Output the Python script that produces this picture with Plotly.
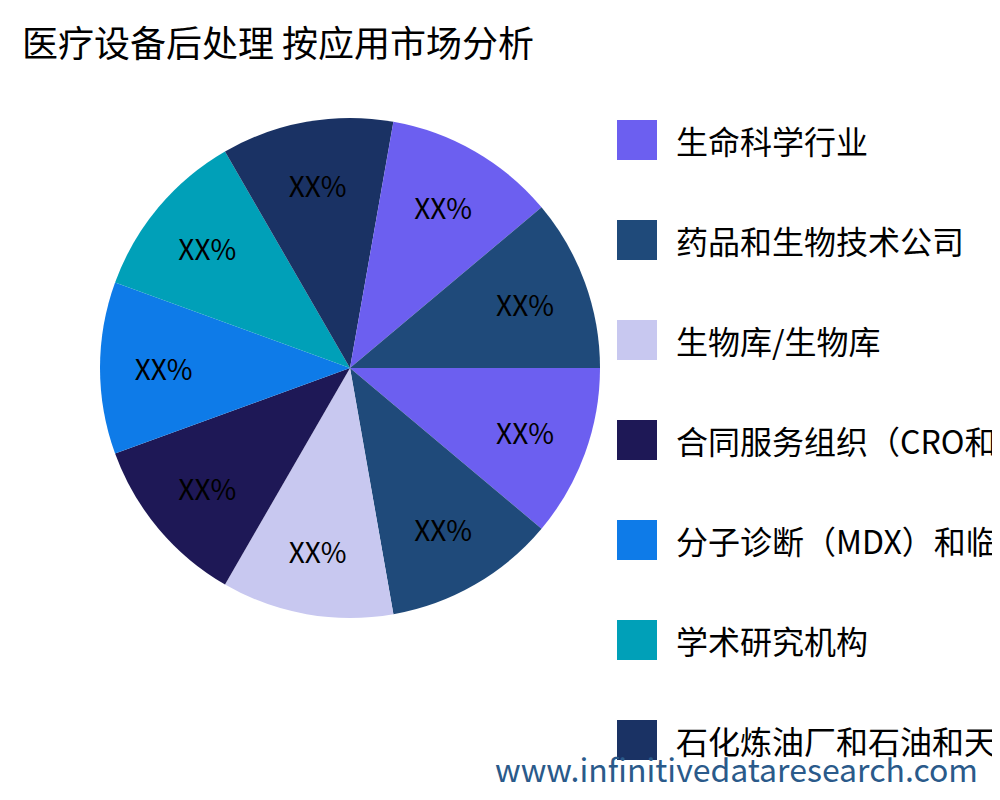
import plotly.graph_objects as go

categories = ["生命科学行业", "药品和生物技术公司", "生物库/生物库", "合同服务组织（CRO和CMO）",
              "分子诊断（MDX）和临床实验室", "学术研究机构", "石化炼油厂和石油和天然气",
              "医院和诊所", "其他"]
values = [1, 1, 1, 1, 1, 1, 1, 1, 1]
texts = ["XX%"] * 9
colors = ["#6c5ff0", "#1f4a7a", "#c8c8f0", "#1e1856", "#0e7be8", "#00a0b8", "#1a3264",
          "#6c5ff0", "#1f4a7a"]

fig = go.Figure(go.Pie(
    labels=categories, values=values, text=texts, textinfo="text",
    textposition="inside", insidetextorientation="horizontal",
    marker=dict(colors=colors), sort=False, direction="clockwise", rotation=90,
    textfont=dict(size=28, color="black"),
    domain=dict(x=[0.092, 0.592], y=[0.2375, 0.8625]),
))

shapes, annotations = [], []
for i, (c, col) in enumerate(zip(categories, colors)):
    top = 112 + 100 * i
    if top > 800:
        break
    y0 = 1 - (top + 40) / 800
    y1 = 1 - top / 800
    shapes.append(dict(type="rect", xref="paper", yref="paper", x0=0.609, x1=0.649,
                       y0=y0, y1=y1, fillcolor=col, line=dict(width=0)))
    annotations.append(dict(text=c, xref="paper", yref="paper", x=0.666, y=(y0 + y1) / 2,
                            xanchor="left", yanchor="middle", showarrow=False,
                            font=dict(size=32, color="black")))
annotations.append(dict(text="www.infinitivedataresearch.com", x=0.972, y=0.05,
                        xref="paper", yref="paper", xanchor="right", yanchor="middle",
                        showarrow=False, font=dict(size=32, color="#2a5a8a")))

fig.update_layout(
    width=1000, height=800, margin=dict(l=0, r=0, t=0, b=0), showlegend=False,
    font=dict(family="Noto Sans CJK SC"),
    title=dict(text="医疗设备后处理 按应用市场分析", x=0.014, y=0.955, xanchor="left",
               yanchor="middle", font=dict(size=36, color="black")),
    shapes=shapes, annotations=annotations, paper_bgcolor="white",
)
fig.write_html("out.html")
